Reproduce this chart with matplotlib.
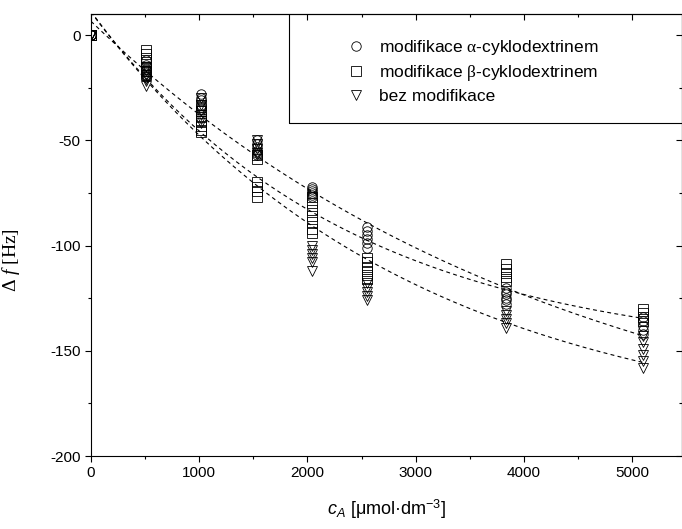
import numpy as np
import matplotlib
matplotlib.use("Agg")
import matplotlib.pyplot as plt
from matplotlib.patches import Rectangle

plt.rcParams['font.family'] = ['Liberation Sans', 'DejaVu Sans']
plt.rcParams['axes.unicode_minus'] = False
plt.rcParams['mathtext.fontset'] = 'custom'
plt.rcParams['mathtext.rm'] = 'Liberation Serif'
plt.rcParams['mathtext.it'] = 'Liberation Serif:italic'
plt.rcParams['mathtext.sf'] = 'Liberation Sans:italic'

# concentrations [umol/dm3]
conc = [0, 510, 1020, 1530, 2040, 2550, 3830, 5100]

# replicate readings of frequency shift [Hz] at each concentration
alpha_vals = [
    [0, 0, 0, 0],
    [-12, -14, -16, -17, -18, -19, -20],
    [-28, -30, -31, -33, -34, -35],
    [-50, -52, -53, -55, -56, -57],
    [-72, -73, -74, -75, -76, -77],
    [-91, -93, -95, -97, -99, -101],
    [-120, -122, -123, -125, -126, -128],
    [-134, -136, -138, -140, -142],
]
beta_vals = [
    [0, 0, 0, 0],
    [-7, -9, -11, -13, -15, -17, -19],
    [-33, -36, -39, -41, -43, -45, -46],
    [-57, -59, -70, -72, -74, -77],
    [-77, -80, -83, -86, -89, -92, -94],
    [-106, -108, -110, -112, -114, -116],
    [-109, -111, -113, -115, -117],
    [-130, -132, -134, -136],
]
bez_vals = [
    [0, 0, 0, 0],
    [-15, -17, -19, -21, -22, -24],
    [-30, -33, -36, -38, -40, -42],
    [-50, -52, -54, -56, -57],
    [-100, -102, -104, -106, -108, -112],
    [-118, -120, -122, -124, -126],
    [-131, -133, -135, -137, -139],
    [-143, -146, -149, -152, -155, -158],
]

labels = [r'modifikace $\mathrm{\alpha}$-cyklodextrinem',
          r'modifikace $\mathrm{\beta}$-cyklodextrinem',
          'bez modifikace']
markers = ['o', 's', 'v']


def flatten(vals):
    xs, ys = [], []
    for c, v in zip(conc, vals):
        xs += [c] * len(v)
        ys += v
    return np.array(xs, float), np.array(ys, float)


def exp_fit(x, y):
    # y = y0 + A*exp(-x/t), grid over t, linear least squares for y0, A
    best = None
    for t in np.linspace(500, 30000, 600):
        M = np.column_stack([np.ones_like(x), np.exp(-x / t)])
        coef, res, _, _ = np.linalg.lstsq(M, y, rcond=None)
        sse = np.sum((M @ coef - y) ** 2)
        if best is None or sse < best[0]:
            best = (sse, coef, t)
    _, (y0, a), t = best
    return lambda xx: y0 + a * np.exp(-xx / t)


fig = plt.figure(figsize=(6.82, 5.29), dpi=100)
ax = fig.add_axes([91 / 682, 1 - 456 / 529, 591 / 682, 442 / 529])

handles = []
xfit = np.linspace(0, 5100, 200)
for vals, m, lab in zip([alpha_vals, beta_vals, bez_vals], markers, labels):
    x, y = flatten(vals)
    h, = ax.plot(x, y, linestyle='none', marker=m, ms=6.8, mfc='none',
                 mec='black', mew=0.6, label=lab, zorder=3)
    handles.append(h)
    f = exp_fit(x, y)
    ax.plot(xfit, f(xfit), color='black', lw=0.8,
            linestyle=(0, (3.5, 3)), zorder=2)

ax.set_xlim(0, 5460)
ax.set_ylim(-200, 10)
ax.set_xticks(range(0, 5001, 1000))
ax.set_xticks(range(500, 5460, 1000), minor=True)
ax.set_yticks(range(-200, 1, 50))
ax.set_yticks(range(-175, 1, 50), minor=True)
ax.tick_params(which='both', direction='out', labelsize=11, width=0.8)
ax.tick_params(which='major', length=4)
ax.tick_params(which='minor', length=2.5)
for s in ax.spines.values():
    s.set_linewidth(0.8)

top = ax.secondary_xaxis('top')
top.set_xticks(range(0, 5001, 1000))
top.set_xticks(range(500, 5460, 1000), minor=True)
top.tick_params(which='both', direction='in', labeltop=False, width=0.8)
top.tick_params(which='major', length=4)
top.tick_params(which='minor', length=2.5)
right = ax.secondary_yaxis('right')
right.set_yticks(range(-200, 1, 50))
right.set_yticks(range(-175, 1, 50), minor=True)
right.tick_params(which='both', direction='in', labelright=False, width=0.8)
right.tick_params(which='major', length=4)
right.tick_params(which='minor', length=2.5)

ax.set_xlabel(r'$\mathsf{c_A}$ [μmol·dm$^{\mathregular{-3}}$]', fontsize=13)
ax.xaxis.set_label_coords(0.5, -0.095)
ax.set_ylabel(r'Δ $f$ [Hz]', fontsize=14, family='Liberation Serif')
ax.yaxis.set_label_coords(-0.117, 0.443)

ax.add_patch(Rectangle((0.335, 0.753), 0.8, 0.3, transform=ax.transAxes,
                       fill=False, lw=0.8, ec='black', clip_on=True, zorder=4))
ax.legend(handles=handles, loc='upper left', bbox_to_anchor=(0.433, 0.945),
          frameon=False, borderpad=0, handlelength=1.0, handletextpad=0.85,
          labelspacing=0.34, fontsize=12.5, borderaxespad=0)

fig.savefig('out.png', dpi=100)
